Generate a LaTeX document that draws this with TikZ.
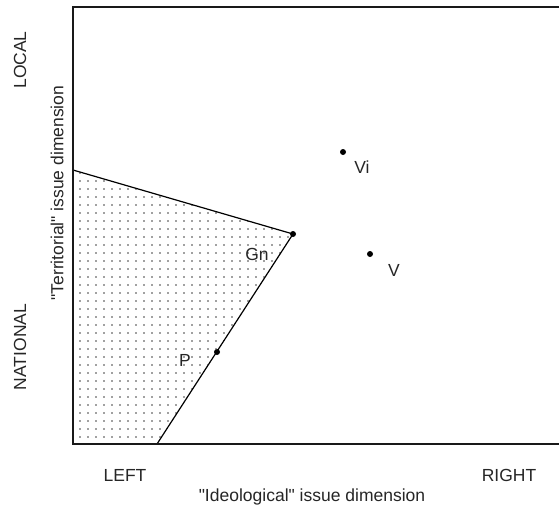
\documentclass[tikz,border=0pt]{standalone}
\usepackage{fontspec}
\setmainfont{Liberation Sans}[Ligatures=TeXOff]
\usetikzlibrary{patterns.meta}
\tikzset{
  party/.style={circle, fill=black, inner sep=0pt, minimum size=6pt},
  lbl/.style={font=\fontsize{17.5}{20}\selectfont, text=black!85, inner sep=0pt},
  frame/.style={line width=1.6pt, black!90}
}
\begin{document}
\begin{tikzpicture}[x=1pt, y=-1pt]
\useasboundingbox (0,0) rectangle (559,517);
% Frame (open on the right)
\coordinate (tl) at (73,7);
\coordinate (tr) at (559,7);
\coordinate (bl) at (73,444);
\coordinate (br) at (559,444);
% Shaded region
\coordinate (w) at (73,170);
\coordinate (s) at (157,444);
\node[party] (gn) at (293,234) {};
\node[party] (p) at (217,352) {};
\fill[pattern={Dots[distance=8pt, radius=0.9pt]}, pattern color=black!75]
  (w) -- (gn.center) -- (s) -- (bl) -- cycle;
\draw[line width=1.2pt] (w) -- (gn.center) -- (s);
\draw[frame] (tr) -- (tl) -- (bl) -- (br);

% Other parties
\node[party] (vi) at (343,152) {};
\node[party] (v) at (370,254) {};

% Party labels
\node[lbl] at (257,254) {Gn};
\node[lbl] at (185,360) {P};
\node[lbl] at (362,167) {Vi};
\node[lbl] at (394,270) {V};

% Axis labels
\node[lbl] at (125,475) {LEFT};
\node[lbl] at (509,475) {RIGHT};
\node[lbl] at (312,497) {"Ideological" issue dimension};
\node[lbl, rotate=90] at (20,60) {LOCAL};
\node[lbl, rotate=90] at (20,347) {NATIONAL};
\node[lbl, rotate=90] at (57,193) {"Territorial" issue dimension};
\end{tikzpicture}
\end{document}
